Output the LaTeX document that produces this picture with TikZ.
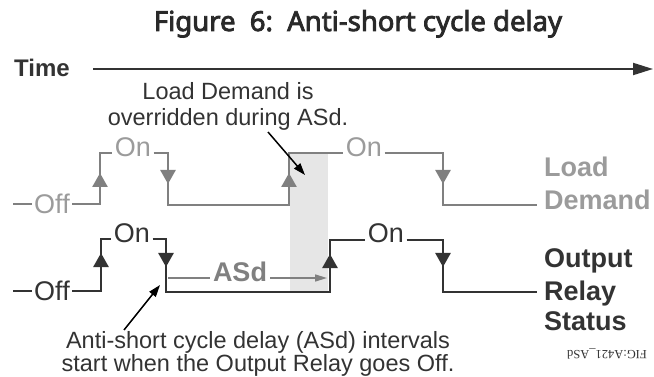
\documentclass[tikz,border=0pt]{standalone}
\usepackage{fontspec}
\setmainfont{Liberation Sans}
\newfontfamily\titlefont{Noto Sans}[FakeBold=3]
\newfontfamily\tagfont{Liberation Serif}
\usetikzlibrary{arrows.meta,positioning,backgrounds}
\definecolor{ldgray}{HTML}{808080}
\definecolor{ldtext}{HTML}{9B9B9B}
\definecolor{relayblk}{HTML}{333333}
\definecolor{asdshade}{HTML}{E6E6E6}
\tikzset{%
titlebox/.style={font=\titlefont\fontsize{27.5}{30}\selectfont, text=relayblk!80!black, inner sep=0pt},
timebox/.style={font=\bfseries\fontsize{24}{28}\selectfont, text=relayblk, inner sep=0pt},
timeaxis/.style={draw=relayblk, line width=2pt, -{Triangle[length=20pt,width=12pt]}},
ldwave/.style={draw=ldgray, line width=2.5pt},
relaywave/.style={draw=relayblk, line width=2.5pt},
ldtip/.style={ldwave, -{Triangle[length=14pt,width=15pt]}},
relaytip/.style={relaywave, -{Triangle[length=14pt,width=15pt]}},
ldstate/.style={font=\fontsize{27}{30}\selectfont, text=ldtext, inner sep=2.5pt},
relaystate/.style={font=\fontsize{27}{30}\selectfont, text=relayblk, inner sep=2.5pt},
ldlabel/.style={font=\bfseries\fontsize{27}{30}\selectfont, text=ldtext, inner sep=0pt, anchor=base west},
relaylabel/.style={font=\bfseries\fontsize{27}{30}\selectfont, text=relayblk, inner sep=0pt, anchor=base west},
asdlabel/.style={font=\bfseries\fontsize{27}{30}\selectfont, text=ldgray, inner sep=3pt},
asdline/.style={draw=ldgray, line width=1.5pt},
note/.style={font=\fontsize{23.5}{26}\selectfont, text=relayblk, inner sep=0pt, anchor=base},
notearrow/.style={draw=black, line width=1.5pt, -{Triangle[length=12pt,width=8pt]}},
figtag/.style={font=\tagfont\fontsize{12.5}{14}\selectfont, text=relayblk, inner sep=0pt}
}

\begin{document}
\begin{tikzpicture}[x=1pt, y=-1pt]
	\useasboundingbox (0,0) rectangle (654,377);
	% ASd interval
	\fill[asdshade] (290,153) rectangle (328,292);

	% title and time axis
	\node[titlebox, anchor=base] (title) at (358,31) {Figure~~6:~~Anti-short cycle delay};
	\node[timebox, anchor=base west] (time) at (14,77) {Time};
	\coordinate (t0) at (93,69);
	\coordinate (t1) at (653,69);
	\draw[timeaxis] (t0) -- (t1);

	% load demand
	\coordinate (g0) at (13,204);
	\node[ldstate] (goff) at (52,204) {Off};
	\coordinate (g1) at (100,204);
	\coordinate (g2) at (100,153);
	\node[ldstate] (gon1) at (133,147) {On};
	\coordinate (g3) at (168,153);
	\coordinate (g4) at (168,205);
	\coordinate (g5) at (289,205);
	\coordinate (g6) at (289,153);
	\node[ldstate] (gon2) at (364,147) {On};
	\coordinate (g7) at (443,153);
	\coordinate (g8) at (443,205);
	\coordinate (g9) at (537,205);

	\draw[ldwave] (g0) -- (goff.west);
	\draw[ldwave] (goff.east) -- (g1) -- (g2) -- (g2 -| gon1.west);
	\draw[ldwave] (gon1.east |- g3) -- (g3) -- (g4) -- (g5) -- (g6) -- (g6 -| gon2.west);
	\draw[ldwave] (gon2.east |- g7) -- (g7) -- (g8) -- (g9);

	\coordinate (ga1) at (100,173);
	\coordinate (ga2) at (168,184);
	\coordinate (ga3) at (289,173);
	\coordinate (ga4) at (443,184);
	\draw[ldtip] (g1) -- (ga1);
	\draw[ldtip] (g3) -- (ga2);
	\draw[ldtip] (g5) -- (ga3);
	\draw[ldtip] (g7) -- (ga4);

	\node[ldlabel] (load) at (544,177) {Load};
	\node[ldlabel] (demand) at (544,210) {Demand};

	% ASd interval arrow
	\node[asdlabel] (asd) at (240,272) {ASd};
	\coordinate (a0) at (168,278);
	\coordinate (a1) at (327,278);
	\draw[asdline] (a0) -- (a0 -| asd.west);
	\draw[asdline, -{Triangle[length=12pt,width=7pt]}] (a1 -| asd.east) -- (a1);

	% output relay status
	\coordinate (b0) at (13,291);
	\node[relaystate] (boff) at (52,291) {Off};
	\coordinate (b1) at (101,291);
	\coordinate (b2) at (101,239);
	\node[relaystate] (bon1) at (132,233) {On};
	\coordinate (b3) at (166,239);
	\coordinate (b4) at (166,292);
	\coordinate (b5) at (330,292);
	\coordinate (b6) at (330,240);
	\node[relaystate] (bon2) at (386,233) {On};
	\coordinate (b7) at (443,240);
	\coordinate (b8) at (443,292);
	\coordinate (b9) at (537,292);

	\draw[relaywave] (b0) -- (boff.west);
	\draw[relaywave] (boff.east) -- (b1) -- (b2) -- (b2 -| bon1.west);
	\draw[relaywave] (bon1.east |- b3) -- (b3) -- (b4) -- (b5) -- (b6) -- (b6 -| bon2.west);
	\draw[relaywave] (bon2.east |- b7) -- (b7) -- (b8) -- (b9);

	\coordinate (ba1) at (101,253);
	\coordinate (ba2) at (166,267);
	\coordinate (ba3) at (330,254);
	\coordinate (ba4) at (443,267);
	\draw[relaytip] (b1) -- (ba1);
	\draw[relaytip] (b3) -- (ba2);
	\draw[relaytip] (b5) -- (ba3);
	\draw[relaytip] (b7) -- (ba4);

	\node[relaylabel] (output) at (544,268) {Output};
	\node[relaylabel] (relay) at (544,300) {Relay};
	\node[relaylabel] (status) at (544,330) {Status};

	% notes
	\node[note] (noteA) at (228,100) {Load Demand is};
	\node[note] (noteB) at (228,126) {overridden during ASd.};
	\coordinate (n0) at (268,132);
	\coordinate (n1) at (305,175);
	\draw[notearrow] (n0) -- (n1);

	\node[note] (noteC) at (258,348) {Anti-short cycle delay (ASd) intervals};
	\node[note] (noteD) at (258,371) {start when the Output Relay goes Off.};
	\coordinate (n2) at (124,330);
	\coordinate (n3) at (160,285);
	\draw[notearrow] (n2) -- (n3);

	\node[figtag, rotate=180] (figid) at (607,354) {FIG:A421\_ASd};
\end{tikzpicture}
\end{document}
